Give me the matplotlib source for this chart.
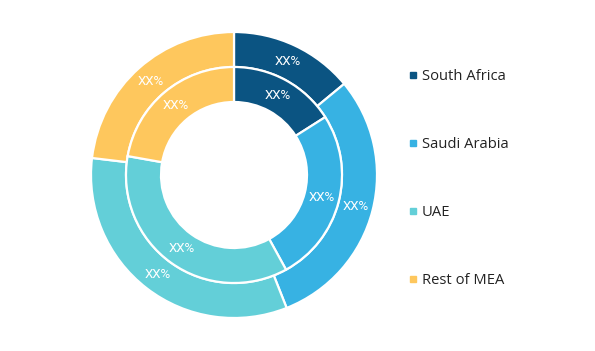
"""
MEA market share - nested donut chart
"""

import matplotlib.pyplot as plt
from matplotlib.lines import Line2D

# data (percent shares, clockwise from 12 o'clock)
regions = ["South Africa", "Saudi Arabia", "UAE", "Rest of MEA"]
outer_share = [14.0, 30.0, 32.9, 23.1]
inner_share = [16.0, 26.0, 35.8, 22.2]
colors = ["#0b5482", "#37b2e3", "#63cfd8", "#fec75d"]
label_text = "XX%"

plt.rcParams["font.family"] = ["Roboto", "DejaVu Sans"]

fig = plt.figure(figsize=(5.95, 3.51), dpi=100)
W, H = 595, 351
cx, cy, r_px = 234, 175, 143
ax = fig.add_axes([(cx - r_px) / W, (H - cy - r_px) / H, 2 * r_px / W, 2 * r_px / H])
ax.set_aspect("equal")

r_outer = 1.0
r_mid = 108 / 143
r_inner = 73 / 143

wedge_style = dict(edgecolor="white", linewidth=1.6)
label_style = dict(color="white", fontsize=9.5, ha="center", va="center")

ax.pie(
    outer_share,
    radius=r_outer,
    colors=colors,
    startangle=90,
    counterclock=False,
    labels=[label_text] * len(outer_share),
    labeldistance=(r_outer + r_mid) / 2 / r_outer,
    textprops=label_style,
    wedgeprops=dict(width=r_outer - r_mid, **wedge_style),
)
ax.pie(
    inner_share,
    radius=r_mid,
    colors=colors,
    startangle=90,
    counterclock=False,
    labels=[label_text] * len(inner_share),
    labeldistance=(r_mid + r_inner) / 2 / r_mid,
    textprops=label_style,
    wedgeprops=dict(width=r_mid - r_inner, **wedge_style),
)
# pie sets label alignment itself, force centering
for t in ax.texts:
    t.set_ha("center")
    t.set_va("center")

ax.set_xlim(-1, 1)
ax.set_ylim(-1, 1)
ax.axis("off")

handles = [
    Line2D([], [], marker="s", linestyle="none", markersize=4.5, color=c)
    for c in colors
]
fig.legend(
    handles,
    regions,
    loc="upper left",
    bbox_to_anchor=(396 / W, 1 - 56 / H),
    frameon=False,
    prop=dict(family=["Open Sans", "DejaVu Sans"], size=10.6),
    labelspacing=3.6,
    handlelength=0.55,
    handletextpad=0.3,
    labelcolor="#222222",
)

fig.savefig("out.png", dpi=100)
plt.close(fig)
